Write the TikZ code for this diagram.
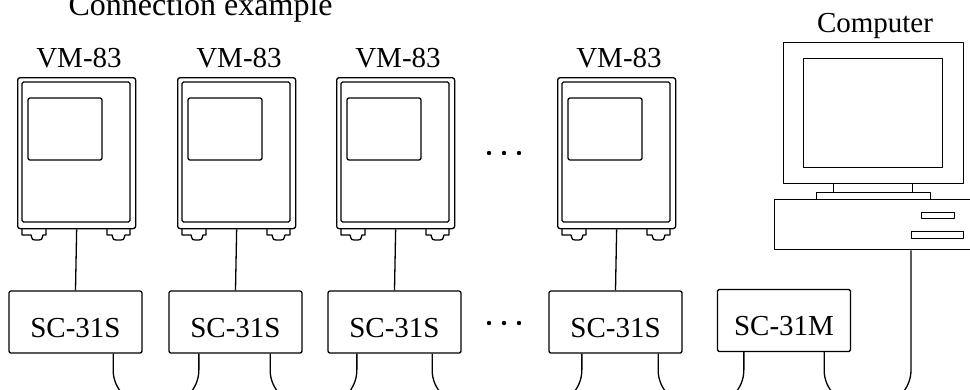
\documentclass[tikz,border=0pt]{standalone}
\usepackage{fontspec}
\setmainfont{Liberation Serif}
\usetikzlibrary{calc}
\begin{document}
\begin{tikzpicture}[x=1pt,y=-1pt,line width=1.3pt,line join=round,
  lbl/.style={font=\fontsize{29}{29}\selectfont,anchor=base,inner sep=0pt},
  scbox/.style={draw,rounded corners=2pt,minimum width=133pt,minimum height=62pt,
    inner sep=0pt,text height=30pt,text depth=0pt,font=\fontsize{29}{29}\selectfont},
  plainbox/.style={draw,inner sep=0pt,anchor=north west},
  cable/.style={rounded corners=35pt},
  dotmark/.style={circle,fill,inner sep=0pt,minimum size=4.4pt},
  vmunit/.pic={
    % housing, bezel and display window
    \node[draw,rounded corners=2.5pt,minimum width=118pt,minimum height=151pt,
      anchor=north west,inner sep=0pt] (-body) at (0,0) {};
    \draw[rounded corners=1.5pt] (5,5) rectangle (113,145);
    \draw[rounded corners=2pt] (11,21) rectangle (85,83);
    % mounting feet
    \draw (5,151) -- (5,158) -- (14,158) .. controls (15.5,163) .. (18,163) -- (22,163)
      .. controls (24.5,163) .. (26,158) -- (29,158) -- (29,151);
    \draw (90,151) -- (90,158) -- (95,158) .. controls (96.5,163) .. (99,163) -- (104,163)
      .. controls (106.5,163) .. (108,158) -- (113,158) -- (113,151);
    \node[lbl] (-label) at (62,-10) {VM-83};
  }]
\path[use as bounding box] (0,0) rectangle (970,389);
\clip (0,0) rectangle (970,389);

\node[font=\fontsize{32}{32}\selectfont,anchor=base west,inner sep=0pt] (title) at (68,15) {Connection example};

% measuring units
\pic (u1) at (17,77) {vmunit};
\pic (u2) at (177,77) {vmunit};
\pic (u3) at (336,77) {vmunit};
\pic (u4) at (557,77) {vmunit};

% signal converters
\node[scbox] (s1) at (75.5,322) {SC-31S};
\node[scbox] (s2) at (235.5,322) {SC-31S};
\node[scbox] (s3) at (394.5,322) {SC-31S};
\node[scbox] (s4) at (615.5,322) {SC-31S};
\node[scbox] (m)  at (784,320.5) {SC-31M};

% omitted units
\node[dotmark] (d1) at (489,153) {};
\node[dotmark] (d2) at (504,153) {};
\node[dotmark] (d3) at (519,153) {};
\node[dotmark] (e1) at (489,323) {};
\node[dotmark] (e2) at (504,323) {};
\node[dotmark] (e3) at (519,323) {};

% computer
\node[lbl] (pclabel) at (875,32) {Computer};
\node[plainbox,minimum width=180pt,minimum height=141pt] (mon) at (783,42) {};
\node[plainbox,minimum width=139pt,minimum height=109pt] (scr) at (803,58) {};
\node[plainbox,minimum width=79pt,minimum height=9pt] (neck) at (833,183) {};
\node[plainbox,minimum width=114pt,minimum height=7pt] (plate) at (816,192) {};
\node[plainbox,minimum width=201pt,minimum height=50pt] (case) at (774,199) {};
\node[plainbox,minimum width=33pt,minimum height=6pt] (slot1) at (921,212) {};
\node[plainbox,minimum width=52pt,minimum height=7pt] (slot2) at (911,231) {};

% unit-to-converter leads
\foreach \i in {1,2,3,4}
  \draw (u\i-body.south) -- (s\i.north);

% converter ports
\coordinate (floor) at (0,405);
\coordinate (s1r) at ($(s1.south east)+(-29.5,0)$);
\coordinate (s2l) at ($(s2.south west)+(30.5,0)$);
\coordinate (s2r) at ($(s2.south east)+(-32.5,0)$);
\coordinate (s3l) at ($(s3.south west)+(29.5,0)$);
\coordinate (s3r) at ($(s3.south east)+(-29.5,0)$);
\coordinate (s4l) at ($(s4.south west)+(33.5,0)$);
\coordinate (s4r) at ($(s4.south east)+(-24.5,0)$);
\coordinate (ml)  at ($(m.south west)+(27,0)$);
\coordinate (mr)  at ($(m.south east)+(-27,0)$);
\coordinate (pcp) at ($(case.south west)+(137,0)$);

% bus cabling
\draw[cable] (s1r) -- (s1r |- floor) -| (s2l);
\draw[cable] (s2r) -- (s2r |- floor) -| (s3l);
\draw[cable] (s3r) -- (s3r |- floor) -| (s4l);
\draw[cable] (s4r) -- (s4r |- floor) -| (ml);
\draw[cable] (mr) -- (mr |- floor) -| (pcp);
\end{tikzpicture}
\end{document}
